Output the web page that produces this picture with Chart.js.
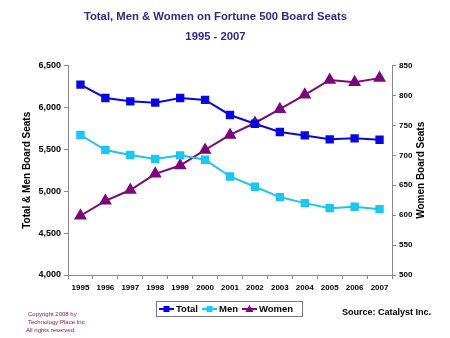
<!DOCTYPE html>
<html>
<head>
<meta charset="utf-8">
<script src="https://cdn.jsdelivr.net/npm/chart.js@4/dist/chart.umd.min.js"></script>
<style>
  html, body { margin: 0; padding: 0; background: #fff; }
  #wrap { width: 450px; height: 338px; position: relative; }
</style>
</head>
<body>
<div id="wrap"><canvas id="boardChart" width="450" height="338"></canvas></div>
<script>
// data
var years = ['1995', '1996', '1997', '1998', '1999', '2000', '2001', '2002', '2003', '2004', '2005', '2006', '2007'];
var totalSeats = [6273, 6113, 6073, 6057, 6113, 6090, 5910, 5806, 5707, 5666, 5619, 5631, 5615];
var menSeats = [5671, 5492, 5432, 5384, 5428, 5376, 5176, 5053, 4930, 4858, 4798, 4814, 4786];
var womenSeats = [599, 624, 642, 669, 683, 709, 734, 754, 777, 801, 826, 822, 829];
var leftTicks = [4000, 4500, 5000, 5500, 6000, 6500];
var rightTicks = [500, 550, 600, 650, 700, 750, 800, 850];

var axisGrey = '#8a8a8a';
var font = 'Liberation Sans, Arial, sans-serif';

// custom bits: legend box, right axis title, footer texts
var extras = {
    id: 'extras',
    afterDraw: function (chart) {
        var ctx = chart.ctx;
        ctx.save();

        // right axis title, reads bottom to top
        var area = chart.chartArea;
        ctx.translate(421, (area.top + area.bottom) / 2);
        ctx.rotate(-Math.PI / 2);
        ctx.fillStyle = '#000';
        ctx.font = 'bold 10px ' + font;
        ctx.textAlign = 'center';
        ctx.textBaseline = 'middle';
        ctx.fillText('Women Board Seats', 0, 0);
        ctx.setTransform(1, 0, 0, 1, 0, 0);

        // legend
        var bx = 156, by = 301, bw = 146, bh = 15;
        ctx.strokeStyle = '#777';
        ctx.lineWidth = 1;
        ctx.strokeRect(bx + 0.5, by + 0.5, bw, bh);
        var x = bx + 3;
        var cy = by + 8;
        ctx.font = 'bold 9.5px ' + font;
        ctx.textAlign = 'left';
        chart.data.datasets.forEach(function (ds) {
            ctx.strokeStyle = ds.borderColor;
            ctx.lineWidth = 2;
            ctx.beginPath();
            ctx.moveTo(x, cy);
            ctx.lineTo(x + 15, cy);
            ctx.stroke();
            ctx.fillStyle = ds.backgroundColor;
            if (ds.pointStyle === 'triangle') {
                ctx.beginPath();
                ctx.moveTo(x + 7.5, cy - 4);
                ctx.lineTo(x + 11.5, cy + 3);
                ctx.lineTo(x + 3.5, cy + 3);
                ctx.closePath();
                ctx.fill();
            } else {
                ctx.fillRect(x + 4.5, cy - 3, 6, 6);
            }
            ctx.fillStyle = '#000';
            ctx.fillText(ds.label, x + 17, cy + 0.5);
            x += 17 + ctx.measureText(ds.label).width + 4;
        });

        // source
        ctx.font = 'bold 9px ' + font;
        ctx.fillStyle = '#000';
        ctx.fillText('Source: Catalyst Inc.', 342, 313);

        // copyright
        ctx.font = '6px ' + font;
        ctx.fillStyle = '#a0103a';
        ctx.fillText('Copyright 2008 by', 28, 314);
        ctx.fillText('Technology Place Inc.', 28, 322);
        ctx.fillText('All rights reserved.', 26, 330);
        ctx.restore();
    }
};

var ctx = document.getElementById('boardChart').getContext('2d');

var chart = new Chart(ctx, {
    type: 'line',
    data: {
        labels: years,
        datasets: [{
            label: 'Total',
            data: totalSeats,
            yAxisID: 'y',
            borderColor: '#0a0ad8',
            backgroundColor: '#0000ff',
            pointStyle: 'rect',
            pointRadius: 4.5,
            borderWidth: 2
        }, {
            label: 'Men',
            data: menSeats,
            yAxisID: 'y',
            borderColor: '#1cc4ef',
            backgroundColor: '#10ccff',
            pointStyle: 'rect',
            pointRadius: 4.5,
            borderWidth: 2
        }, {
            label: 'Women',
            data: womenSeats,
            yAxisID: 'y1',
            borderColor: '#7a0a7a',
            backgroundColor: '#800080',
            pointStyle: 'triangle',
            pointRadius: 5.5,
            borderWidth: 2
        }]
    },
    options: {
        responsive: false,
        animation: false,
        layout: { padding: { left: 1, right: 20, top: 0, bottom: 43 } },
        plugins: {
            legend: { display: false },
            tooltip: { enabled: false },
            title: {
                display: true,
                text: ['Total, Men & Women on Fortune 500 Board Seats', '1995 - 2007'],
                color: '#2b2b8a',
                font: { family: font, size: 11.3, weight: 'bold', lineHeight: 1.75 },
                padding: { top: 7, bottom: 19 }
            }
        },
        scales: {
            x: {
                type: 'category',
                offset: true,
                grid: { offset: true, drawOnChartArea: false, tickLength: 4, color: axisGrey },
                border: { color: axisGrey },
                ticks: { color: '#000', font: { family: font, size: 8, weight: 'bold' }, padding: 4, maxRotation: 0, autoSkip: false },
                afterFit: function (scale) { scale.height = 20; }
            },
            y: {
                position: 'left',
                min: 4000,
                max: 6500,
                afterBuildTicks: function (scale) {
                    scale.ticks = leftTicks.map(function (v) { return { value: v }; });
                },
                grid: { drawOnChartArea: false, tickLength: 4, color: axisGrey },
                border: { color: axisGrey },
                ticks: {
                    color: '#000',
                    font: { family: font, size: 9, weight: 'bold' },
                    padding: 3,
                    callback: function (v) { return v.toLocaleString('en-US'); }
                },
                title: {
                    display: true,
                    text: 'Total & Men Board Seats',
                    color: '#000',
                    font: { family: font, size: 10, weight: 'bold' },
                    padding: { top: 20, bottom: 0 }
                },
                afterFit: function (scale) { scale.width = 67; }
            },
            y1: {
                position: 'right',
                min: 500,
                max: 850,
                afterBuildTicks: function (scale) {
                    scale.ticks = rightTicks.map(function (v) { return { value: v }; });
                },
                grid: { drawOnChartArea: false, tickLength: 4, color: axisGrey },
                border: { color: axisGrey },
                ticks: { color: '#000', font: { family: font, size: 8, weight: 'bold' }, padding: 3 },
                afterFit: function (scale) { scale.width = 38; }
            }
        }
    },
    plugins: [extras]
});
</script>
</body>
</html>
